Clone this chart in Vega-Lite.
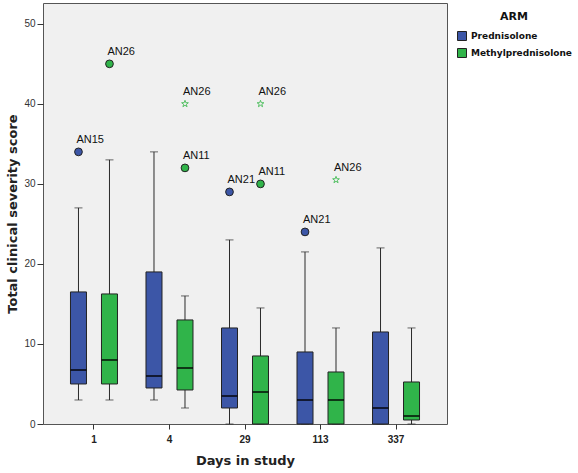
{
  "$schema": "https://vega.github.io/schema/vega-lite/v6.json",
  "width": 404,
  "height": 421,
  "autosize": {"type": "none"},
  "padding": {"left": 43, "top": 3, "right": 131, "bottom": 49},
  "background": "white",
  "datasets": {
    "boxes": [
      {"day": "1", "arm": "Prednisolone", "lo": 3, "q1": 5, "med": 6.75, "q3": 16.5, "hi": 27},
      {"day": "1", "arm": "Methylprednisolone", "lo": 3, "q1": 5, "med": 8, "q3": 16.25, "hi": 33},
      {"day": "4", "arm": "Prednisolone", "lo": 3, "q1": 4.5, "med": 6, "q3": 19, "hi": 34},
      {"day": "4", "arm": "Methylprednisolone", "lo": 2, "q1": 4.25, "med": 7, "q3": 13, "hi": 16},
      {"day": "29", "arm": "Prednisolone", "lo": 0, "q1": 2, "med": 3.5, "q3": 12, "hi": 23},
      {"day": "29", "arm": "Methylprednisolone", "lo": 0, "q1": 0, "med": 4, "q3": 8.5, "hi": 14.5},
      {"day": "113", "arm": "Prednisolone", "lo": 0, "q1": 0, "med": 3, "q3": 9, "hi": 21.5},
      {"day": "113", "arm": "Methylprednisolone", "lo": 0, "q1": 0, "med": 3, "q3": 6.5, "hi": 12},
      {"day": "337", "arm": "Prednisolone", "lo": 0, "q1": 0, "med": 2, "q3": 11.5, "hi": 22},
      {"day": "337", "arm": "Methylprednisolone", "lo": 0, "q1": 0.5, "med": 1, "q3": 5.25, "hi": 12}
    ],
    "outliers": [
      {"day": "1", "arm": "Prednisolone", "v": 34, "lab": "AN15", "kind": "outlier"},
      {"day": "1", "arm": "Methylprednisolone", "v": 45, "lab": "AN26", "kind": "outlier"},
      {"day": "4", "arm": "Methylprednisolone", "v": 32, "lab": "AN11", "kind": "outlier"},
      {"day": "4", "arm": "Methylprednisolone", "v": 40, "lab": "AN26", "kind": "extreme"},
      {"day": "29", "arm": "Prednisolone", "v": 29, "lab": "AN21", "kind": "outlier"},
      {"day": "29", "arm": "Methylprednisolone", "v": 30, "lab": "AN11", "kind": "outlier"},
      {"day": "29", "arm": "Methylprednisolone", "v": 40, "lab": "AN26", "kind": "extreme"},
      {"day": "113", "arm": "Prednisolone", "v": 24, "lab": "AN21", "kind": "outlier"},
      {"day": "113", "arm": "Methylprednisolone", "v": 30.5, "lab": "AN26", "kind": "extreme"}
    ]
  },
  "encoding": {
    "x": {
      "field": "day", "type": "ordinal", "sort": ["1", "4", "29", "113", "337"],
      "scale": {"type": "band", "paddingInner": 0, "paddingOuter": 0.175},
      "axis": {"title": "Days in study"}
    },
    "xOffset": {
      "field": "arm", "type": "nominal", "sort": ["Prednisolone", "Methylprednisolone"],
      "scale": {"paddingInner": 0, "paddingOuter": 0.218}
    }
  },
  "layer": [
    {
      "data": {"name": "boxes"},
      "mark": {"type": "rule", "color": "#2a2a2a", "strokeWidth": 1},
      "encoding": {
        "y": {"field": "lo", "type": "quantitative", "scale": {"domain": [0, 52.6], "nice": false, "zero": false}, "title": "Total clinical severity score", "axis": {"values": [0, 10, 20, 30, 40, 50]}},
        "y2": {"field": "hi"}
      }
    },
    {
      "data": {"name": "boxes"},
      "mark": {"type": "tick", "color": "#2a2a2a", "thickness": 1, "size": 8},
      "encoding": {
        "y": {"field": "hi", "type": "quantitative", "scale": {"domain": [0, 52.6], "nice": false, "zero": false}, "title": "Total clinical severity score", "axis": {"values": [0, 10, 20, 30, 40, 50]}}
      }
    },
    {
      "data": {"name": "boxes"},
      "mark": {"type": "tick", "color": "#2a2a2a", "thickness": 1, "size": 8},
      "encoding": {
        "y": {"field": "lo", "type": "quantitative", "scale": {"domain": [0, 52.6], "nice": false, "zero": false}, "title": "Total clinical severity score", "axis": {"values": [0, 10, 20, 30, 40, 50]}}
      }
    },
    {
      "data": {"name": "boxes"},
      "mark": {"type": "bar", "size": 16, "stroke": "#222222", "strokeWidth": 1},
      "encoding": {
        "y": {"field": "q1", "type": "quantitative", "scale": {"domain": [0, 52.6], "nice": false, "zero": false}, "title": "Total clinical severity score", "axis": {"values": [0, 10, 20, 30, 40, 50]}},
        "y2": {"field": "q3"},
        "color": {
          "field": "arm", "type": "nominal", "sort": ["Prednisolone", "Methylprednisolone"],
          "scale": {"domain": ["Prednisolone", "Methylprednisolone"], "range": ["#3C56A7", "#30B44A"]},
          "legend": {"title": "ARM"}
        }
      }
    },
    {
      "data": {"name": "boxes"},
      "mark": {"type": "tick", "color": "#000000", "thickness": 2, "size": 16},
      "encoding": {
        "y": {"field": "med", "type": "quantitative", "scale": {"domain": [0, 52.6], "nice": false, "zero": false}, "title": "Total clinical severity score", "axis": {"values": [0, 10, 20, 30, 40, 50]}}
      }
    },
    {
      "data": {"name": "outliers"},
      "transform": [{"filter": "datum.kind === 'outlier'"}],
      "mark": {"type": "point", "shape": "circle", "filled": true, "size": 60, "stroke": "#222222", "strokeWidth": 1, "opacity": 1},
      "encoding": {
        "y": {"field": "v", "type": "quantitative", "scale": {"domain": [0, 52.6], "nice": false, "zero": false}, "title": "Total clinical severity score", "axis": {"values": [0, 10, 20, 30, 40, 50]}},
        "fill": {
          "field": "arm", "type": "nominal",
          "scale": {"domain": ["Prednisolone", "Methylprednisolone"], "range": ["#3C56A7", "#30B44A"]},
          "legend": null
        }
      }
    },
    {
      "data": {"name": "outliers"},
      "transform": [{"filter": "datum.kind === 'extreme'"}],
      "mark": {
        "type": "point",
        "shape": "M0,-1L0.235,-0.324L0.951,-0.309L0.380,0.124L0.588,0.809L0,0.4L-0.588,0.809L-0.380,0.124L-0.951,-0.309L-0.235,-0.324Z",
        "filled": false, "size": 50, "stroke": "#52C062", "strokeWidth": 1, "opacity": 1
      },
      "encoding": {
        "y": {"field": "v", "type": "quantitative", "scale": {"domain": [0, 52.6], "nice": false, "zero": false}, "title": "Total clinical severity score", "axis": {"values": [0, 10, 20, 30, 40, 50]}}
      }
    },
    {
      "data": {"name": "outliers"},
      "mark": {"type": "text", "align": "left", "baseline": "middle", "dx": -2, "dy": -12, "font": "Liberation Sans", "fontSize": 11, "color": "#111111"},
      "encoding": {
        "y": {"field": "v", "type": "quantitative", "scale": {"domain": [0, 52.6], "nice": false, "zero": false}, "title": "Total clinical severity score", "axis": {"values": [0, 10, 20, 30, 40, 50]}},
        "text": {"field": "lab"}
      }
    }
  ],
  "config": {
    "view": {"fill": "#F0F0F0", "stroke": "#555555", "strokeWidth": 1},
    "axis": {"grid": false, "domain": false, "tickColor": "#333333"},
    "axisX": {
      "tickSize": 5, "labelAngle": 0, "labelFont": "Liberation Sans", "labelFontWeight": "bold", "labelFontSize": 10, "labelColor": "#222222", "labelPadding": 5,
      "titleFont": "DejaVu Sans", "titleFontWeight": "bold", "titleFontSize": 13, "titleColor": "#222222", "titlePadding": 10
    },
    "axisY": {
      "tickSize": 6, "labelFont": "Liberation Sans", "labelFontSize": 10, "labelColor": "#333333", "labelPadding": 2,
      "titleFont": "DejaVu Sans", "titleFontWeight": "bold", "titleFontSize": 13, "titleColor": "#222222", "titlePadding": 4
    },
    "legend": {
      "orient": "none", "legendX": 414, "legendY": 8,
      "titleFont": "DejaVu Sans", "titleFontWeight": "bold", "titleFontSize": 11, "titleColor": "#111111",
      "titleAnchor": "middle", "titlePadding": 9,
      "labelFont": "DejaVu Sans", "labelFontWeight": "bold", "labelFontSize": 9, "labelColor": "#111111", "labelOffset": 4,
      "symbolType": "square", "symbolSize": 81, "symbolStrokeColor": "#222222", "symbolStrokeWidth": 1, "symbolOpacity": 1, "rowPadding": 3
    }
  }
}
